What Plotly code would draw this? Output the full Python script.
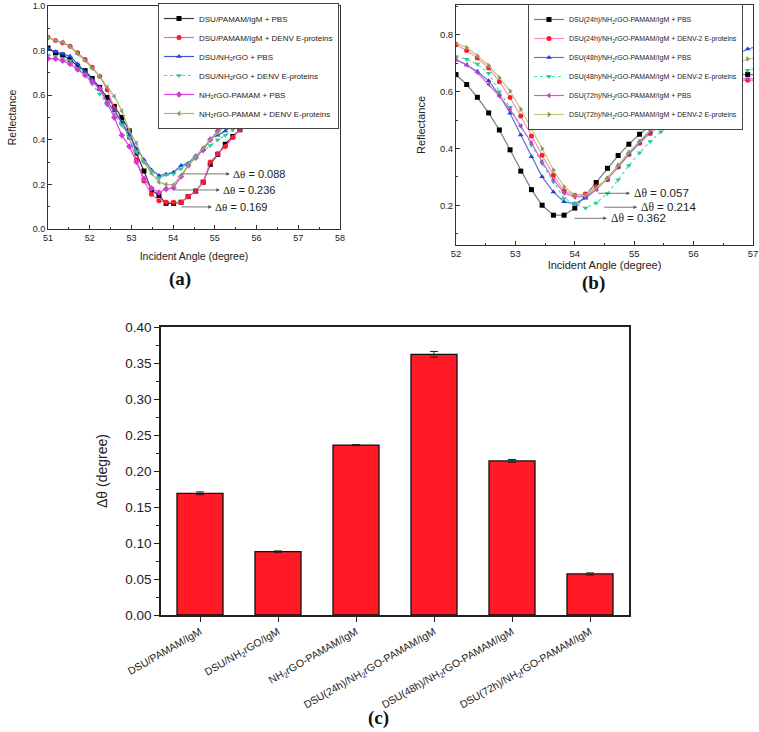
import plotly.graph_objects as go

# ---------------- Panel (a) data ----------------
a_x = [51.00, 51.18, 51.35, 51.53, 51.71, 51.89, 52.06, 52.24, 52.42, 52.59, 52.77, 52.95,
       53.12, 53.30, 53.48, 53.66, 53.83, 54.01, 54.19, 54.36, 54.54, 54.72, 54.89, 55.07,
       55.25, 55.43, 55.60, 55.78, 55.96, 56.13, 56.31, 56.49]
a_pamam_pbs = [0.812, 0.79, 0.78, 0.76, 0.73, 0.71, 0.675, 0.635, 0.59, 0.55, 0.50, 0.44,
               0.34, 0.26, 0.175, 0.15, 0.115, 0.115, 0.12, 0.145, 0.17, 0.21, 0.29, 0.335,
               0.38, 0.415, 0.445, 0.475, 0.51, 0.55, 0.59, 0.63]
a_pamam_denv = [0.86, 0.845, 0.835, 0.82, 0.79, 0.76, 0.725, 0.685, 0.625, 0.54, 0.475, 0.41,
                0.31, 0.215, 0.156, 0.127, 0.12, 0.12, 0.12, 0.146, 0.17, 0.21, 0.30, 0.337,
                0.37, 0.41, 0.445, 0.47, 0.50, 0.535, 0.575, 0.615]
a_rgo_pbs = [0.81, 0.795, 0.785, 0.775, 0.74, 0.705, 0.67, 0.625, 0.57, 0.53, 0.48, 0.425,
             0.36, 0.31, 0.265, 0.24, 0.245, 0.255, 0.285, 0.295, 0.328, 0.355, 0.405, 0.42,
             0.44, 0.465, 0.49, 0.52, 0.55, 0.585, 0.62, 0.66]
a_rgo_denv = [0.78, 0.775, 0.765, 0.755, 0.72, 0.695, 0.65, 0.605, 0.555, 0.515, 0.465, 0.41,
              0.345, 0.30, 0.262, 0.228, 0.243, 0.247, 0.27, 0.295, 0.325, 0.35, 0.375, 0.40,
              0.42, 0.445, 0.47, 0.50, 0.535, 0.57, 0.605, 0.64]
a_rgopam_pbs = [0.765, 0.763, 0.755, 0.74, 0.715, 0.69, 0.66, 0.63, 0.565, 0.50, 0.42, 0.37,
                0.30, 0.225, 0.183, 0.164, 0.179, 0.185, 0.235, 0.285, 0.32, 0.355, 0.40, 0.44,
                0.465, 0.49, 0.525, 0.555, 0.585, 0.615, 0.645, 0.675]
a_rgopam_denv = [0.86, 0.845, 0.838, 0.818, 0.785, 0.755, 0.72, 0.685, 0.635, 0.595, 0.53, 0.44,
                 0.385, 0.30, 0.25, 0.21, 0.20, 0.198, 0.24, 0.285, 0.325, 0.365, 0.40, 0.43,
                 0.465, 0.495, 0.52, 0.55, 0.58, 0.61, 0.645, 0.68]
a_names = ["DSU/PAMAM/IgM + PBS", "DSU/PAMAM/IgM + DENV E-proteins",
           "DSU/NH<sub>2</sub>rGO + PBS", "DSU/NH<sub>2</sub>rGO + DENV E-proteins",
           "NH<sub>2</sub>rGO-PAMAM + PBS", "NH<sub>2</sub>rGO-PAMAM + DENV E-proteins"]
a_dtheta = ["0.088", "0.236", "0.169"]

# ---------------- Panel (b) data ----------------
b_x = [52.00, 52.18, 52.36, 52.55, 52.73, 52.91, 53.09, 53.27, 53.45, 53.64, 53.82, 54.00,
       54.18, 54.36, 54.55, 54.73, 54.91, 55.09, 55.27, 55.45, 55.64, 55.82, 56.00, 56.18,
       56.36, 56.55, 56.73, 56.91, 57.09]
b_24_pbs = [0.66, 0.625, 0.58, 0.525, 0.465, 0.395, 0.32, 0.255, 0.20, 0.165, 0.165, 0.19,
            0.235, 0.28, 0.33, 0.375, 0.415, 0.45, 0.48, 0.51, 0.54, 0.57, 0.60, 0.625,
            0.645, 0.655, 0.66, 0.66, 0.66]
b_24_denv = [0.765, 0.745, 0.718, 0.683, 0.635, 0.579, 0.514, 0.444, 0.376, 0.306, 0.25, 0.235,
             0.24, 0.265, 0.29, 0.335, 0.379, 0.418, 0.453, 0.482, 0.51, 0.541, 0.575, 0.60,
             0.62, 0.63, 0.638, 0.64, 0.638]
b_48_pbs = [0.712, 0.694, 0.671, 0.638, 0.588, 0.524, 0.447, 0.371, 0.30, 0.247, 0.212, 0.206,
            0.225, 0.255, 0.295, 0.335, 0.38, 0.42, 0.46, 0.495, 0.53, 0.565, 0.60, 0.64,
            0.675, 0.705, 0.73, 0.75, 0.76]
b_48_denv = [0.724, 0.714, 0.697, 0.665, 0.60, 0.545, 0.479, 0.412, 0.347, 0.282, 0.224, 0.206,
             0.19, 0.208, 0.241, 0.29, 0.34, 0.385, 0.424, 0.459, 0.49, 0.524, 0.553, 0.585,
             0.615, 0.64, 0.66, 0.675, 0.685]
b_72_pbs = [0.714, 0.694, 0.667, 0.626, 0.584, 0.537, 0.479, 0.42, 0.353, 0.29, 0.243, 0.229,
            0.23, 0.255, 0.295, 0.34, 0.385, 0.425, 0.465, 0.505, 0.535, 0.565, 0.595, 0.62,
            0.635, 0.645, 0.645, 0.645, 0.645]
b_72_denv = [0.771, 0.755, 0.726, 0.692, 0.649, 0.602, 0.538, 0.471, 0.40, 0.324, 0.265, 0.235,
             0.235, 0.26, 0.295, 0.34, 0.385, 0.425, 0.465, 0.505, 0.54, 0.575, 0.61, 0.64,
             0.665, 0.685, 0.70, 0.715, 0.72]
b_names = ["DSU(24h)/NH<sub>2</sub>rGO-PAMAM/IgM + PBS",
           "DSU(24h)/NH<sub>2</sub>rGO-PAMAM/IgM + DENV-2 E-proteins",
           "DSU(48h)/NH<sub>2</sub>rGO-PAMAM/IgM + PBS",
           "DSU(48h)/NH<sub>2</sub>rGO-PAMAM/IgM + DENV-2 E-proteins",
           "DSU(72h)/NH<sub>2</sub>rGO-PAMAM/IgM + PBS",
           "DSU(72h)/NH<sub>2</sub>rGO-PAMAM/IgM + DENV-2 E-proteins"]
b_dtheta = ["0.057", "0.214", "0.362"]

# ---------------- Panel (c) data ----------------
c_categories = ["DSU/PAMAM/IgM", "DSU/NH<sub>2</sub>rGO/IgM", "NH<sub>2</sub>rGO-PAMAM/IgM",
                "DSU(24h)/NH<sub>2</sub>rGO-PAMAM/IgM", "DSU(48h)/NH<sub>2</sub>rGO-PAMAM/IgM",
                "DSU(72h)/NH<sub>2</sub>rGO-PAMAM/IgM"]
c_values = [0.169, 0.088, 0.236, 0.362, 0.214, 0.057]
c_errors = [0.002, 0.001, 0.0008, 0.004, 0.002, 0.0015]

# ---------------- styles ----------------
a_styles = [
    dict(line=dict(color="#3a3a3a", width=1.2, dash="solid"), marker=dict(symbol="square", color="#000000")),
    dict(line=dict(color="#ff5fc0", width=1.2, dash="solid"), marker=dict(symbol="circle", color="#ff1a2a")),
    dict(line=dict(color="#3b5bd6", width=1.2, dash="solid"), marker=dict(symbol="triangle-up", color="#1f3fe0")),
    dict(line=dict(color="#33e0a0", width=1.2, dash="dot"), marker=dict(symbol="triangle-down", color="#2cc89a")),
    dict(line=dict(color="#e040e0", width=1.2, dash="solid"), marker=dict(symbol="diamond", color="#d23cd2")),
    dict(line=dict(color="#a8bc5c", width=1.2, dash="solid"), marker=dict(symbol="triangle-left", color="#8a9a78")),
]
b_styles = [
    dict(line=dict(color="#6e8282", width=1.2, dash="solid"), marker=dict(symbol="square", color="#000000")),
    dict(line=dict(color="#ff88c8", width=1.2, dash="solid"), marker=dict(symbol="circle", color="#ff1a2a")),
    dict(line=dict(color="#5f72d6", width=1.2, dash="solid"), marker=dict(symbol="triangle-up", color="#1f3fe0")),
    dict(line=dict(color="#44e896", width=1.2, dash="dot"), marker=dict(symbol="triangle-down", color="#2cc890")),
    dict(line=dict(color="#d060d0", width=1.2, dash="solid"), marker=dict(symbol="triangle-left", color="#c03cc0")),
    dict(line=dict(color="#bccb74", width=1.2, dash="solid"), marker=dict(symbol="triangle-right", color="#8c9a50")),
]

FONT = "Arial, Liberation Sans, sans-serif"
SERIF = "Times New Roman, Liberation Serif, serif"
TXT = "#222222"

fig = go.Figure()

a_series = [a_pamam_pbs, a_pamam_denv, a_rgo_pbs, a_rgo_denv, a_rgopam_pbs, a_rgopam_denv]
for i, (ys, nm, st) in enumerate(zip(a_series, a_names, a_styles)):
    fig.add_trace(go.Scatter(
        x=a_x, y=ys, name=nm, mode="lines+markers", xaxis="x", yaxis="y",
        line=st["line"], marker=dict(size=5, **st["marker"]),
        legend="legend", legendgroup="a%d" % (i // 2)))

b_series = [b_24_pbs, b_24_denv, b_48_pbs, b_48_denv, b_72_pbs, b_72_denv]
for i, (ys, nm, st) in enumerate(zip(b_series, b_names, b_styles)):
    fig.add_trace(go.Scatter(
        x=b_x, y=ys, name=nm, mode="lines+markers", xaxis="x2", yaxis="y2",
        line=st["line"], marker=dict(size=5, **st["marker"]),
        legend="legend2", legendgroup="b%d" % (i // 2)))

fig.add_trace(go.Bar(
    x=c_categories, y=c_values, xaxis="x3", yaxis="y3", width=0.59,
    marker=dict(color="#ff1a26", line=dict(color="#111111", width=1.3)),
    error_y=dict(type="data", array=c_errors, color="#222222", thickness=1, width=4),
    showlegend=False))

W, H = 759, 732
def px_x(p):
    return p / W
def px_y(p):
    return 1 - p / H

def curve_axis(domain, rng, dtick, minor, fmt=None, tickvals=None, size=9):
    d = dict(domain=domain, range=rng, showline=True, linecolor="#333333", linewidth=1,
             mirror=True, ticks="inside", ticklen=4, tickcolor="#333333", automargin=False,
             tickfont=dict(size=size, color=TXT, family=FONT), showgrid=False, zeroline=False,
             minor=dict(ticks="inside", ticklen=2, dtick=minor, tickcolor="#333333", showgrid=False))
    if tickvals is not None:
        d["tickvals"] = tickvals
    else:
        d["dtick"] = dtick
    if fmt:
        d["tickformat"] = fmt
    return d

xa = curve_axis([px_x(48), px_x(340)], [51, 58], 1, 0.5)
xa["title"] = dict(text="Incident Angle (degree)", font=dict(size=10.5, color=TXT, family=FONT), standoff=10)
ya = curve_axis([px_y(229), px_y(6)], [0, 1.0], 0.2, 0.1, fmt=".1f")
ya["title"] = dict(text="Reflectance", font=dict(size=10.5, color=TXT, family=FONT), standoff=14)
xb = curve_axis([px_x(456), px_x(753)], [52, 57], 1, 0.5, size=9.5)
xb["title"] = dict(text="Incident Angle (degree)", font=dict(size=11, color=TXT, family=FONT), standoff=2)
yb = curve_axis([px_y(245), px_y(5)], [0.06, 0.905], None, 0.1, fmt=".1f",
                tickvals=[0.2, 0.4, 0.6, 0.8], size=9.5)
yb["minor"]["tick0"] = 0
yb["title"] = dict(text="Reflectance", font=dict(size=11, color=TXT, family=FONT), standoff=12)
xb["anchor"] = "y2"
yb["anchor"] = "x2"
xa["anchor"] = "y"
ya["anchor"] = "x"

xc = dict(domain=[px_x(161), px_x(629)], anchor="y3", range=[-0.5, 5.5], showline=True,
          linecolor="#222222", linewidth=1.5, mirror=True, ticks="outside", ticklen=5,
          tickcolor="#222222", tickangle=-30, tickfont=dict(size=10.5, color=TXT, family=FONT),
          showgrid=False, zeroline=False, automargin=False)
yc = dict(domain=[px_y(615), px_y(327)], anchor="x3", range=[0, 0.40], dtick=0.05, tickformat=".2f",
          showline=True, linecolor="#222222", linewidth=1.5, mirror=True, ticks="outside",
          ticklen=5, tickcolor="#222222", tickfont=dict(size=13.5, color=TXT, family=FONT),
          showgrid=False, zeroline=False, automargin=False,
          minor=dict(ticks="outside", ticklen=3, dtick=0.025, tickcolor="#222222", showgrid=False),
          title=dict(text="Δθ (degree)", font=dict(size=14, color=TXT, family=FONT), standoff=14))

annotations = []
# arrows + delta-theta labels for panel (a): (tail_x, head_x, y)
a_arrows = [(54.16, 55.36, 0.247), (54.00, 55.12, 0.175), (54.16, 54.93, 0.099)]
for (tx, hx, yy), val in zip(a_arrows, a_dtheta):
    annotations.append(dict(xref="x", yref="y", axref="x", ayref="y", x=hx, y=yy, ax=tx, ay=yy,
                            text="", showarrow=True, arrowhead=2, arrowsize=0.9, arrowwidth=0.8,
                            arrowcolor="#555555", standoff=0, startstandoff=0))
    annotations.append(dict(xref="x", yref="y", x=hx + 0.03, y=yy, xanchor="left", yanchor="middle",
                            showarrow=False,
                            text="<span style='font-family:Liberation Serif'>Δθ</span> = " + val,
                            font=dict(size=11, color=TXT, family=FONT)))
b_arrows = [(54.37, 54.93, 0.242), (54.47, 55.05, 0.193), (53.97, 54.54, 0.154)]
for (tx, hx, yy), val in zip(b_arrows, b_dtheta):
    annotations.append(dict(xref="x2", yref="y2", axref="x2", ayref="y2", x=hx, y=yy, ax=tx, ay=yy,
                            text="", showarrow=True, arrowhead=2, arrowsize=0.9, arrowwidth=0.8,
                            arrowcolor="#555555", standoff=0, startstandoff=0))
    annotations.append(dict(xref="x2", yref="y2", x=hx + 0.03, y=yy, xanchor="left", yanchor="middle",
                            showarrow=False,
                            text="<span style='font-family:Liberation Serif'>Δθ</span> = " + val,
                            font=dict(size=11.5, color=TXT, family=FONT)))

for lbl, px, py in [("(a)", 180, 279), ("(b)", 593, 283), ("(c)", 378, 718)]:
    annotations.append(dict(xref="paper", yref="paper", x=px_x(px), y=px_y(py), xanchor="center",
                            yanchor="middle", showarrow=False, text="<b>%s</b>" % lbl,
                            font=dict(size=19, color="#111111", family=SERIF)))

fig.update_layout(
    width=W, height=H, margin=dict(l=0, r=0, t=0, b=0, autoexpand=False),
    paper_bgcolor="white", plot_bgcolor="white",
    font=dict(family=FONT, color=TXT),
    xaxis=xa, yaxis=ya, xaxis2=xb, yaxis2=yb, xaxis3=xc, yaxis3=yc,
    annotations=annotations,
    legend=dict(x=px_x(339), y=px_y(3), xanchor="right", yanchor="top", bgcolor="white",
                bordercolor="#444444", borderwidth=1, font=dict(size=8, color=TXT, family=FONT),
                traceorder="grouped", tracegroupgap=0, itemwidth=30),
    legend2=dict(x=px_x(743), y=px_y(4), xanchor="right", yanchor="top", bgcolor="white",
                 bordercolor="#444444", borderwidth=1, font=dict(size=7, color=TXT, family=FONT),
                 traceorder="grouped", tracegroupgap=0, itemwidth=30),
    showlegend=True,
)

fig.write_html("out.html")
